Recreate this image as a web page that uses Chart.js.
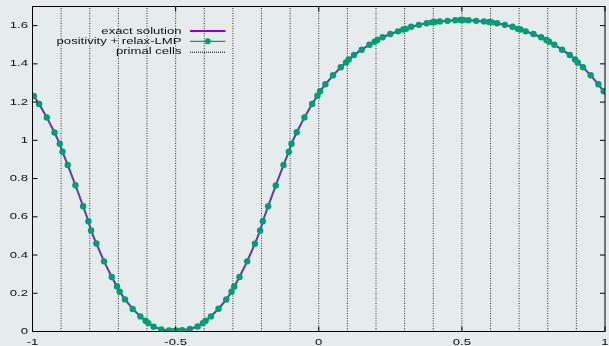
<!DOCTYPE html>
<html>
<head>
<meta charset="utf-8">
<script src="https://cdn.jsdelivr.net/npm/chart.js@4.4.1/dist/chart.umd.min.js"></script>
<style>
    html, body { margin: 0; padding: 0; background: #e5eceb; }
    #wrap { width: 609px; height: 346px; }
</style>
</head>
<body>
<div id="wrap"><canvas id="chart" width="609" height="346"></canvas></div>
<script>
// ----------------------
//  DATA
// ----------------------

//  CELL EDGES (primal cells) AND 5 NODES PER CELL (fraction of cell width)
const cellEdges = [-1, -0.9, -0.8, -0.7, -0.6, -0.5, -0.4, -0.3, -0.2, -0.1, 0,
    0.1, 0.2, 0.3, 0.4, 0.5, 0.6, 0.7, 0.8, 0.9, 1];
const nodeOffsets = [0.0469, 0.2308, 0.5, 0.7692, 0.9531];

//  NUMERICAL SOLUTION, 5 VALUES PER CELL, LEFT TO RIGHT
const relaxLMP = [
    1.232, 1.190, 1.120, 1.041, 0.982,
    0.940, 0.871, 0.765, 0.655, 0.577,
    0.528, 0.460, 0.367, 0.285, 0.235,
    0.208, 0.168, 0.118, 0.079, 0.056,
    0.044, 0.025, 0.011, 0.005, 0.003,
    0.004, 0.007, 0.013, 0.026, 0.044,
    0.056, 0.079, 0.119, 0.167, 0.208,
    0.235, 0.285, 0.367, 0.459, 0.528,
    0.577, 0.655, 0.764, 0.871, 0.940,
    0.982, 1.042, 1.120, 1.190, 1.233,
    1.257, 1.293, 1.340, 1.382, 1.407,
    1.423, 1.446, 1.474, 1.500, 1.516,
    1.525, 1.539, 1.556, 1.570, 1.580,
    1.583, 1.594, 1.604, 1.612, 1.617,
    1.619, 1.622, 1.625, 1.628, 1.630,
    1.630, 1.628, 1.625, 1.622, 1.619,
    1.617, 1.612, 1.604, 1.594, 1.583,
    1.580, 1.570, 1.556, 1.539, 1.525,
    1.516, 1.500, 1.474, 1.446, 1.423,
    1.407, 1.382, 1.340, 1.293, 1.257
];

//  EXACT SOLUTION AT THE DOMAIN ENDS (x = -1, x = 1)
const exactEnds = [1.245, 1.245];

//  AXES
const xTicks = [-1, -0.5, 0, 0.5, 1];
const yTicks = [0, 0.2, 0.4, 0.6, 0.8, 1, 1.2, 1.4, 1.6];
const xRange = [-1, 1];
const yRange = [0, 1.7];

const seriesNames = ['exact solution', 'positivity + relax-LMP', 'primal cells'];

// ----------------------
//  STYLE
// ----------------------
const bgColor = '#e5eceb';
const purple = '#9400d3';
const green = '#009e73';
const fontSpec = '9.5px "Liberation Sans", Arial, sans-serif';
const textStretch = 1.38;

// ----------------------
//  BUILD DATASETS
// ----------------------
let nodes = [];
for (let c = 0; c < cellEdges.length - 1; c++) {
    const w = cellEdges[c + 1] - cellEdges[c];
    nodeOffsets.forEach(g => nodes.push(cellEdges[c] + g * w));
}

const numericData = nodes.map((x, i) => ({ x: x, y: relaxLMP[i] }));
const exactData = [{ x: xRange[0], y: exactEnds[0] }]
    .concat(numericData)
    .concat([{ x: xRange[1], y: exactEnds[1] }]);

let cellData = [];
cellEdges.slice(1, -1).forEach(e => {
    cellData.push({ x: e, y: yRange[0] }, { x: e, y: yRange[1] }, { x: e, y: null });
});

//  STRETCHED TEXT (the reference font is wide)
function stretchText(ctx, text, x, y, align, baseline) {
    ctx.save();
    ctx.translate(x, y);
    ctx.scale(textStretch, 1);
    ctx.font = fontSpec;
    ctx.fillStyle = '#111';
    ctx.textAlign = align;
    ctx.textBaseline = baseline;
    ctx.fillText(text, 0, 0);
    ctx.restore();
}

// ----------------------
//  PLUGINS
// ----------------------
const background = {
    id: 'background',
    beforeDraw(chart) {
        const ctx = chart.ctx;
        ctx.save();
        ctx.fillStyle = bgColor;
        ctx.fillRect(0, 0, chart.width, chart.height);
        ctx.restore();
    }
};

//  FRAME, INWARD TICKS, LABELS, LEGEND
const frame = {
    id: 'frame',
    afterDraw(chart) {
        const ctx = chart.ctx;
        const a = chart.chartArea;
        const sx = chart.scales.x;
        const sy = chart.scales.y;
        const tick = 5;

        ctx.save();
        ctx.strokeStyle = '#000';
        ctx.lineWidth = 1;
        ctx.strokeRect(a.left, a.top, a.right - a.left, a.bottom - a.top);

        ctx.beginPath();
        xTicks.forEach(v => {
            const px = sx.getPixelForValue(v);
            ctx.moveTo(px, a.bottom); ctx.lineTo(px, a.bottom - tick);
            ctx.moveTo(px, a.top); ctx.lineTo(px, a.top + tick);
        });
        yTicks.forEach(v => {
            const py = sy.getPixelForValue(v);
            ctx.moveTo(a.left, py); ctx.lineTo(a.left + tick, py);
            ctx.moveTo(a.right, py); ctx.lineTo(a.right - tick, py);
        });
        ctx.stroke();
        ctx.restore();

        xTicks.forEach(v => stretchText(ctx, String(v), sx.getPixelForValue(v), 345, 'center', 'alphabetic'));
        yTicks.forEach(v => stretchText(ctx, String(v), 28, sy.getPixelForValue(v), 'right', 'middle'));

        //  LEGEND
        const textRight = 181.5;
        const x0 = 190, x1 = 225.5;
        const rows = [31, 41.3, 51.7];
        seriesNames.forEach((name, i) => stretchText(ctx, name, textRight, rows[i], 'right', 'middle'));

        ctx.save();
        ctx.lineWidth = 2;
        ctx.strokeStyle = purple;
        ctx.beginPath(); ctx.moveTo(x0, rows[0]); ctx.lineTo(x1, rows[0]); ctx.stroke();

        ctx.lineWidth = 1.3;
        ctx.strokeStyle = green;
        ctx.beginPath(); ctx.moveTo(x0, rows[1]); ctx.lineTo(x1, rows[1]); ctx.stroke();
        ctx.fillStyle = green;
        ctx.beginPath(); ctx.arc((x0 + x1) / 2, rows[1], 3, 0, Math.PI * 2); ctx.fill();

        ctx.lineWidth = 1;
        ctx.strokeStyle = '#000';
        ctx.setLineDash([1, 1]);
        ctx.beginPath(); ctx.moveTo(x0, rows[2] + 0.5); ctx.lineTo(x1, rows[2] + 0.5); ctx.stroke();
        ctx.restore();
    }
};

// ----------------------
//  CHART
// ----------------------
const ctx = document.getElementById('chart').getContext('2d');
const chart = new Chart(ctx, {
    type: 'line',
    data: {
        datasets: [{
            label: seriesNames[1],
            data: numericData,
            borderColor: 'rgba(0, 158, 115, 0.65)',
            borderWidth: 1.2,
            pointRadius: 3.2,
            pointBorderWidth: 0,
            pointBackgroundColor: green,
            order: 0,
        }, {
            label: seriesNames[0],
            data: exactData,
            borderColor: purple,
            borderWidth: 2,
            pointRadius: 0,
            order: 1,
        }, {
            label: seriesNames[2],
            data: cellData,
            borderColor: 'rgba(0, 0, 0, 0.8)',
            borderWidth: 1,
            borderDash: [1, 1.5],
            pointRadius: 0,
            spanGaps: false,
            order: 2,
        }]
    },
    options: {
        responsive: false,
        animation: false,
        devicePixelRatio: 1,
        layout: { padding: { left: 32.5, right: 1.5, top: 6.5, bottom: 14.5 } },
        plugins: {
            legend: { display: false },
            tooltip: { enabled: false },
        },
        elements: { line: { tension: 0, fill: false } },
        scales: {
            x: { type: 'linear', min: xRange[0], max: xRange[1], display: false },
            y: { type: 'linear', min: yRange[0], max: yRange[1], display: false },
        },
    },
    plugins: [background, frame],
});
</script>
</body>
</html>
